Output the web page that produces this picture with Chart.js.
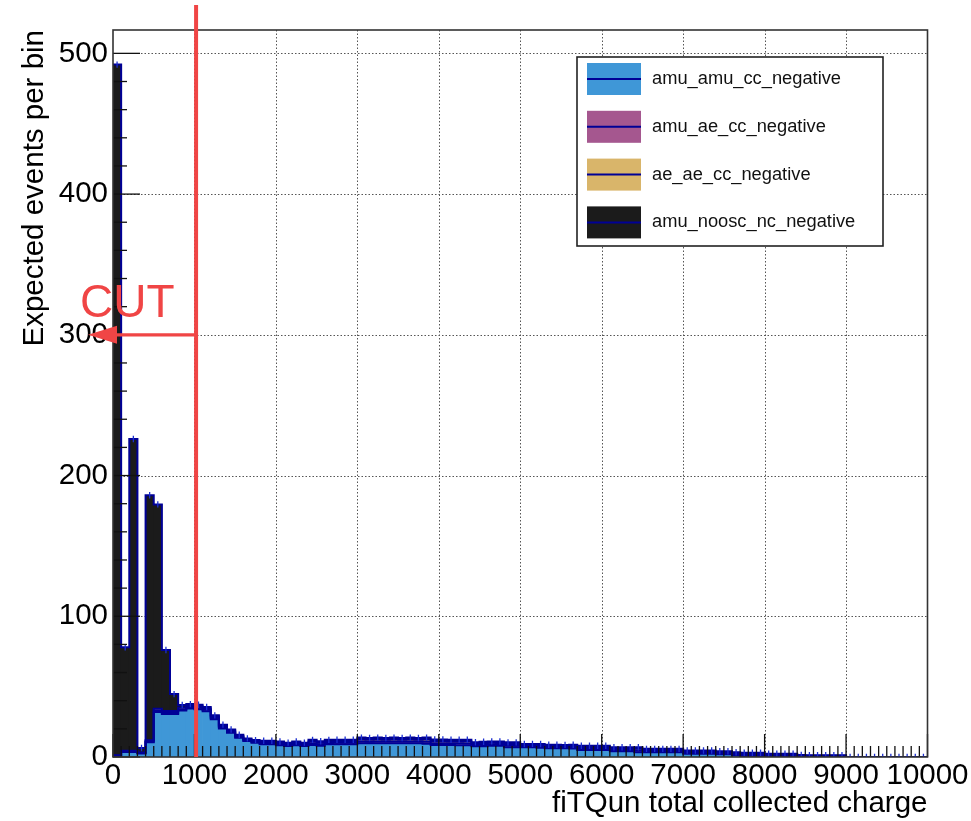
<!DOCTYPE html>
<html><head><meta charset="utf-8">
<style>html,body{margin:0;padding:0;background:#fff;}canvas{display:block;}</style>
<script src="https://cdn.jsdelivr.net/npm/chart.js@4.4.1/dist/chart.umd.min.js"></script>
</head><body>
<canvas id="c" width="971" height="821"></canvas>
<script>
// ---------- data ----------
const BIN_WIDTH = 100;
const binLowEdges = Array.from({length: 100}, (_, i) => i * BIN_WIDTH);
const xTickValues = [0,1000,2000,3000,4000,5000,6000,7000,8000,9000,10000];
const yTickValues = [0,100,200,300,400,500];
const Y_MAX = 516.6;
const CUT_VALUE = 1020;
const CUT_ARROW_Y = 300;

const amuAmuCC = [
 0.5,3.5,3.5,2.5,10.5,32,30.5,30.5,33,34.5,
 34,32.5,26.8,20.2,17.2,13.7,11.3,10.1,9,9,
 8.3,7.8,8.3,7.8,8.5,8,9,9,9,9,
 9.7,9.7,9.8,9.8,9.8,9.8,9.8,9.8,9.5,8.5,
 8.5,8.5,8.4,8.3,7.7,7.6,8,8,7,6.9,
 6.9,6.9,6.6,6.2,6.2,6.2,6.1,5,5,5,
 5,4.1,4.1,4.1,3.4,3.4,3.4,3.4,3.4,3.4,
 2.3,2.3,2.3,2.3,1.9,1.9,1.2,0.7,0.7,0.7,
 0.5,0.5,0.5,0.4,0.3,0.2,0.2,0.2,0.2,0.2,
 0,0,0,0,0,0,0,0,0,0];
const amuAeCC = [
 0.3,0.5,0.5,0.3,0.6,1,1,1,1,1,
 1,1,0.9,0.9,0.8,0.7,0.6,0.6,0.8,0.8,
 0.9,0.8,0.9,0.8,1.2,1,1,1.1,1.1,1.1,
 1.3,1.2,1.3,1.2,1.3,1.2,1.3,1.2,1.4,1.3,
 1.3,1.2,1.3,1.3,0.9,1,1,1,1.1,1.1,
 0.8,0.8,0.8,0.8,0.8,0.8,0.8,1,1,1,
 1,0.9,0.9,0.9,1.2,0.8,0.8,0.8,0.8,0.8,
 0.8,0.8,0.8,0.8,0.7,0.7,0.7,0.8,0.8,0.8,
 0.6,0.6,0.6,0.6,0.4,0.3,0.3,0.3,0.3,0.3,
 0,0,0,0,0,0,0,0,0,0];
const aeAeCC = [
 0.4,0.5,0.5,0.4,0.8,1.2,1.2,1.2,1.2,1.1,
 1.1,1,1,1,0.8,0.7,0.7,0.7,0.9,0.9,
 0.9,0.8,0.9,0.8,1.3,1.1,1.1,1.1,1.1,1.1,
 1.4,1.3,1.4,1.3,1.4,1.3,1.4,1.3,1.5,1.4,
 1.4,1.3,1.3,1.4,1,1.1,1.1,1,1.2,1.2,
 0.8,0.8,0.9,0.9,0.9,0.8,0.9,1,1,1,
 1,1,1,1,1.2,0.8,0.8,0.8,0.8,0.8,
 0.8,0.8,0.8,0.8,0.8,0.8,0.8,0.8,0.8,0.8,
 0.6,0.6,0.6,0.7,0.4,0.4,0.4,0.4,0.4,0.4,
 0,0,0,0,0,0,0,0,0,0];
const amuNooscNC = [
 490.8,73.5,221.5,3.2,174.1,145.3,43.3,12,1.8,1.0,
 1.0,1.0,0.9,0.9,0.7,0.7,0.6,0.6,0.9,0.9,
 0.9,0.8,0.9,0.8,1.2,1.1,1.1,1.1,1.1,1.1,
 1.4,1.3,1.3,1.2,1.3,1.2,1.3,1.2,1.4,1.3,
 1.3,1.3,1.3,1.3,0.9,1.1,1.0,1.0,1.1,1.2,
 0.7,0.8,0.9,0.8,0.8,0.8,0.9,1,1,1,
 1,0.9,0.9,0.9,1.1,0.8,0.8,0.8,0.8,0.8,
 0.7,0.7,0.7,0.7,0.7,0.7,0.7,0.7,0.7,0.7,
 0.6,0.6,0.6,0.6,0.4,0.3,0.3,0.3,0.3,0.3,
 0,0,0,0,0,0,0,0,0,0];

const seriesNames = ['amu_amu_cc_negative','amu_ae_cc_negative','ae_ae_cc_negative','amu_noosc_nc_negative'];
const seriesValues = [amuAmuCC, amuAeCC, aeAeCC, amuNooscNC];
const seriesColors = ['#3f97d7','#a5578f','#d9b56a','#1b1b1b'];
const LINE_COLOR = '#000096';
const FONT = "'Liberation Sans', Arial, Helvetica, sans-serif";
const AXIS_FONT_SIZE = 29.5;

// ---------- datasets ----------
const centers = binLowEdges.map(e => e + BIN_WIDTH / 2);
const datasets = [];
const cumulative = [];
let running = binLowEdges.map(() => 0);
seriesValues.forEach(arr => { running = running.map((v, i) => v + arr[i]); cumulative.push(running.slice()); });
const total = cumulative[cumulative.length - 1];

datasets.push({
  type: 'line', label: '_err', stack: 'err', showLine: false,
  data: centers.map((c, i) => ({x: c, y: total[i]})),
  pointStyle: 'line', pointRotation: 90, pointRadius: 3.2, pointBorderWidth: 1.3,
  pointBorderColor: '#1c2fd0', pointBackgroundColor: '#1c2fd0', order: -2
});
cumulative.forEach((lvl, k) => {
  const pts = binLowEdges.map((e, i) => ({x: e, y: lvl[i]}));
  pts.push({x: binLowEdges[binLowEdges.length - 1] + BIN_WIDTH, y: lvl[lvl.length - 1]});
  datasets.push({
    type: 'line', label: '_outline' + k, stack: 'outline' + k,
    data: pts, stepped: 'before', borderColor: LINE_COLOR, borderWidth: 2,
    pointRadius: 0, fill: false, order: -1 + k * 0.01
  });
});
seriesValues.forEach((arr, k) => {
  datasets.push({
    type: 'bar', label: seriesNames[k], stack: 'hist',
    data: centers.map((c, i) => ({x: c, y: arr[i]})),
    backgroundColor: seriesColors[k], borderWidth: 0,
    barPercentage: 1, categoryPercentage: 1, order: 10
  });
});

// ---------- plugins ----------
const bgPlugin = {
  id: 'bg',
  beforeDraw(chart) {
    const ctx = chart.ctx; ctx.save(); ctx.fillStyle = '#fff';
    ctx.fillRect(0, 0, chart.width, chart.height); ctx.restore();
  }
};
const gridPlugin = {
  id: 'rootGrid',
  beforeDatasetsDraw(chart) {
    const {ctx, chartArea: {left, right, top, bottom}, scales: {x, y}} = chart;
    ctx.save();
    ctx.strokeStyle = '#555'; ctx.lineWidth = 1; ctx.setLineDash([1.5, 2]);
    xTickValues.forEach(v => {
      if (v <= x.min || v >= x.max) return;
      const px = Math.round(x.getPixelForValue(v)) + 0.5;
      ctx.beginPath(); ctx.moveTo(px, top); ctx.lineTo(px, bottom); ctx.stroke();
    });
    yTickValues.forEach(v => {
      if (v <= y.min || v >= y.max) return;
      const py = Math.round(y.getPixelForValue(v)) + 0.5;
      ctx.beginPath(); ctx.moveTo(left, py); ctx.lineTo(right, py); ctx.stroke();
    });
    ctx.restore();
  },
  afterDatasetsDraw(chart) {
    const {ctx, chartArea: {left, right, top, bottom}, scales: {x, y}} = chart;
    ctx.save();
    ctx.strokeStyle = '#111'; ctx.lineWidth = 1.3;
    for (let v = x.min; v <= x.max + 1e-6; v += BIN_WIDTH) {
      const major = xTickValues.includes(v);
      const px = x.getPixelForValue(v);
      ctx.beginPath(); ctx.moveTo(px, bottom); ctx.lineTo(px, bottom - (major ? 23 : 11)); ctx.stroke();
    }
    for (let v = 0; v <= y.max; v += 20) {
      const major = yTickValues.includes(v);
      const py = y.getPixelForValue(v);
      ctx.beginPath(); ctx.moveTo(left, py); ctx.lineTo(left + (major ? 27 : 14), py); ctx.stroke();
    }
    ctx.strokeStyle = '#333'; ctx.lineWidth = 1.6;
    ctx.strokeRect(left, top, right - left, bottom - top);
    ctx.restore();
  },
  afterDraw(chart) {
    const {ctx, chartArea: {left, top, bottom}, scales: {x, y}} = chart;
    ctx.save();
    const cx = x.getPixelForValue(CUT_VALUE);
    const red = '#f04545';
    ctx.strokeStyle = red; ctx.lineWidth = 4;
    ctx.beginPath(); ctx.moveTo(cx, top - 25); ctx.lineTo(cx, bottom); ctx.stroke();
    const ay = y.getPixelForValue(CUT_ARROW_Y);
    const tip = left - 25;
    ctx.lineWidth = 3.2;
    ctx.beginPath(); ctx.moveTo(cx, ay); ctx.lineTo(tip + 20, ay); ctx.stroke();
    ctx.fillStyle = red;
    ctx.beginPath(); ctx.moveTo(tip, ay); ctx.lineTo(tip + 29, ay - 9); ctx.lineTo(tip + 29, ay + 9); ctx.closePath(); ctx.fill();
    ctx.font = '46px ' + FONT; ctx.textBaseline = 'alphabetic'; ctx.textAlign = 'left';
    ctx.fillText('CUT', left - 33, ay - 18);
    const bx = 577, by = 57, bw = 306, bh = 189;
    ctx.fillStyle = '#fff'; ctx.fillRect(bx, by, bw, bh);
    ctx.strokeStyle = '#222'; ctx.lineWidth = 1.6; ctx.strokeRect(bx, by, bw, bh);
    ctx.font = '18.3px ' + FONT; ctx.textBaseline = 'middle';
    seriesNames.forEach((name, k) => {
      const cy = by + 22 + k * 47.8;
      ctx.fillStyle = seriesColors[k];
      ctx.fillRect(bx + 10, cy - 16, 54, 32);
      ctx.strokeStyle = LINE_COLOR; ctx.lineWidth = 2;
      ctx.beginPath(); ctx.moveTo(bx + 10, cy); ctx.lineTo(bx + 64, cy); ctx.stroke();
      ctx.fillStyle = '#111';
      ctx.fillText(name, bx + 75, cy);
    });
    ctx.restore();
  }
};

// ---------- chart ----------
new Chart(document.getElementById('c'), {
  type: 'bar',
  data: { datasets },
  options: {
    responsive: false, animation: false, devicePixelRatio: 1,
    events: [],
    layout: { padding: { left: 0, right: 43.5, top: 30, bottom: 0 } },
    plugins: { legend: { display: false }, tooltip: { enabled: false } },
    scales: {
      x: {
        type: 'linear', min: 0, max: 10000, offset: false, stacked: true,
        grid: { display: false, drawTicks: false, offset: false },
        border: { display: false },
        afterBuildTicks: s => { s.ticks = xTickValues.map(v => ({value: v})); },
        ticks: { autoSkip: false, maxRotation: 0, minRotation: 0, padding: 1, color: '#000',
                 font: { family: FONT, size: AXIS_FONT_SIZE }, callback: v => String(v) },
        title: { display: true, text: 'fiTQun total collected charge', align: 'end', color: '#000',
                 font: { family: FONT, size: AXIS_FONT_SIZE }, padding: { top: 0, bottom: -1 } },
        afterFit: s => { s.height = 64; }
      },
      y: {
        type: 'linear', min: 0, max: Y_MAX, stacked: true,
        grid: { display: false, drawTicks: false },
        border: { display: false },
        afterBuildTicks: s => { s.ticks = yTickValues.map(v => ({value: v})); },
        ticks: { padding: 5, color: '#000', font: { family: FONT, size: AXIS_FONT_SIZE }, callback: v => String(v) },
        title: { display: true, text: 'Expected events per bin', align: 'end', color: '#000',
                 font: { family: FONT, size: AXIS_FONT_SIZE }, padding: { top: 17, bottom: 0 } },
        afterFit: s => { s.width = 113; }
      }
    }
  },
  plugins: [bgPlugin, gridPlugin]
});
</script>
</body></html>
